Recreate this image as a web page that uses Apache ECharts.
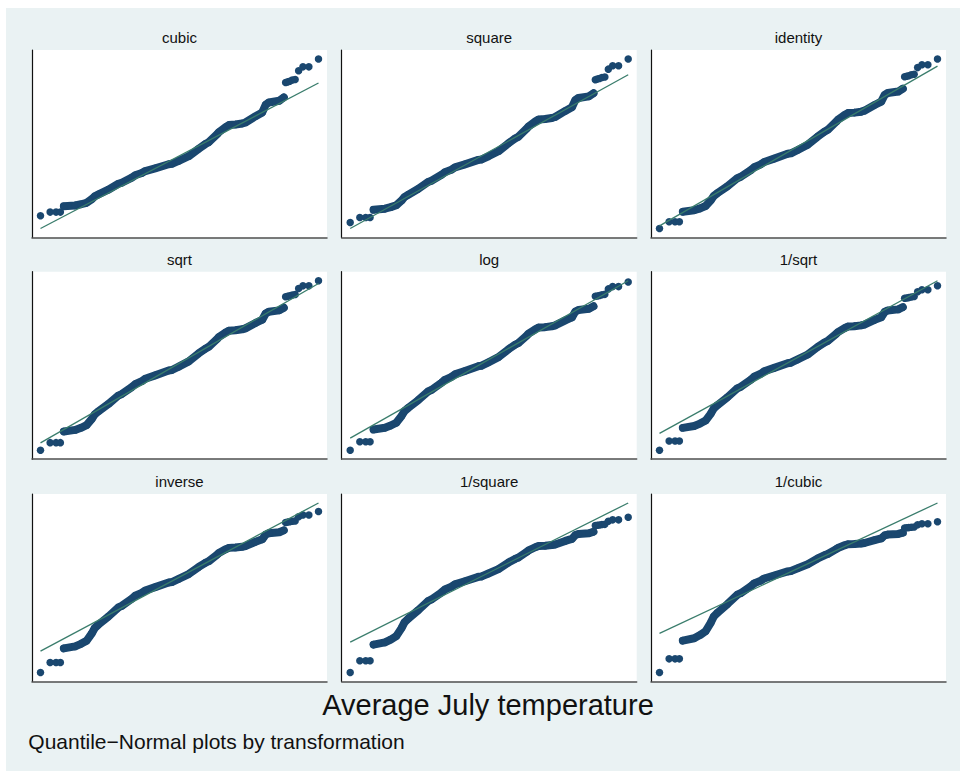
<!DOCTYPE html>
<html>
<head>
<meta charset="utf-8">
<script src="https://cdn.jsdelivr.net/npm/echarts@6/dist/echarts.min.js"></script>
<style>
html,body{margin:0;padding:0;background:#ffffff;}
#c{position:absolute;left:6px;top:8px;width:954px;height:763px;}
</style>
</head>
<body>
<div id="c"></div>
<script>
// ---- data ----
const N_OBS = 954;
const panelTitles = ['cubic', 'square', 'identity', 'sqrt', 'log', '1/sqrt', 'inverse', '1/square', '1/cubic'];
// sorted observations: rank in the sample and Average July temperature (°F)
const ranks = [1, 2, 3, 4, 5, 10, 14, 19, 25, 29, 35, 55, 84, 96, 139, 156, 193, 214, 282, 387, 414, 471, 555, 635, 684, 708, 762, 772, 808, 824, 852, 876, 886, 911, 923, 928, 932, 942, 945, 946, 947, 948, 949, 950, 951, 952, 953, 954];
const tempJuly = [58.2, 59.6, 59.6, 59.6, 61.7, 62.0, 62.4, 62.9, 64.1, 65.0, 65.6, 67.0, 68.7, 69.0, 70.4, 71.0, 71.6, 72.1, 72.8, 73.8, 73.9, 74.6, 75.7, 77.4, 78.4, 78.8, 80.5, 80.9, 81.9, 82.3, 82.4, 82.6, 82.8, 84.0, 84.7, 86.1, 86.5, 86.8, 87.4, 89.9, 90.0, 90.1, 90.3, 90.4, 91.8, 92.4, 92.4, 93.6];
const denseFrom = 5, denseTo = 945;   // ranks forming the continuous run of markers
const xTitle = 'Average July temperature';
const noteText = 'Quantile\u2212Normal plots by transformation';

// ladder of powers (Stata gladder/qladder)
const ladder = [
  v => v * v * v,
  v => v * v,
  v => v,
  v => Math.sqrt(v),
  v => Math.log(v),
  v => -1 / Math.sqrt(v),
  v => -1 / v,
  v => -1 / (v * v),
  v => -1 / (v * v * v)
];

// inverse standard normal (Acklam)
function invNorm(p) {
  const a = [-3.969683028665376e+01, 2.209460984245205e+02, -2.759285104469687e+02, 1.383577518672690e+02, -3.066479806614716e+01, 2.506628277459239e+00];
  const b = [-5.447609879822406e+01, 1.615858368580409e+02, -1.556989798598866e+02, 6.680131188771972e+01, -1.328068155288572e+01];
  const c = [-7.784894002430293e-03, -3.223964580411365e-01, -2.400758277161838e+00, -2.549732539343734e+00, 4.374664141464968e+00, 2.938163982698783e+00];
  const d = [7.784695709041462e-03, 3.224671290700398e-01, 2.445134137142996e+00, 3.754408661907416e+00];
  const pl = 0.02425;
  let q, r;
  if (p < pl) {
    q = Math.sqrt(-2 * Math.log(p));
    return (((((c[0]*q+c[1])*q+c[2])*q+c[3])*q+c[4])*q+c[5]) / ((((d[0]*q+d[1])*q+d[2])*q+d[3])*q+1);
  } else if (p <= 1 - pl) {
    q = p - 0.5; r = q * q;
    return (((((a[0]*r+a[1])*r+a[2])*r+a[3])*r+a[4])*r+a[5])*q / (((((b[0]*r+b[1])*r+b[2])*r+b[3])*r+b[4])*r+1);
  } else {
    q = Math.sqrt(-2 * Math.log(1 - p));
    return -(((((c[0]*q+c[1])*q+c[2])*q+c[3])*q+c[4])*q+c[5]) / ((((d[0]*q+d[1])*q+d[2])*q+d[3])*q+1);
  }
}

// normal quantiles (plotting position i/(N+1)) and weights of each listed observation
const zq = ranks.map(r => invNorm(r / (N_OBS + 1)));
const wts = ranks.map((r, k) => ((k + 1 < ranks.length ? ranks[k + 1] : N_OBS + 1) - (k > 0 ? ranks[k - 1] : 0)) / 2);

// ---- layout ----
const NAVY = '#1a476f', REF = '#3a7d6c', BG = '#eaf2f3';
const FONT = "'Liberation Sans', Arial, Helvetica, sans-serif";
const colLeft = [26, 335.7, 645], rowTop = [42, 263.7, 486];
const gw = 295, gh = 187.5, padX = 8.5, padY = 9;

const grids = [], xAxes = [], yAxes = [], series = [], graphics = [];
panelTitles.forEach((t, i) => {
  const f = ladder[i];
  const tv = tempJuly.map(f);
  const sw = wts.reduce((s, w) => s + w, 0);
  const m = tv.reduce((s, v, k) => s + v * wts[k], 0) / sw;
  const sd = Math.sqrt(tv.reduce((s, v, k) => s + wts[k] * (v - m) * (v - m), 0) / (sw - 1));
  const ys = tv.map(v => (v - m) / sd);
  const pts = zq.map((z, k) => [z, ys[k]]);
  const dense = pts.filter((p, k) => ranks[k] >= denseFrom && ranks[k] <= denseTo);
  const x0 = zq[0], x1 = zq[zq.length - 1];
  const yMin = Math.min(ys[0], x0), yMax = Math.max(ys[ys.length - 1], x1);
  const sx = (x1 - x0) / (gw - 2 * padX), sy = (yMax - yMin) / (gh - 2 * padY);
  const left = colLeft[i % 3], top = rowTop[Math.floor(i / 3)];
  grids.push({ left: left, top: top, width: gw, height: gh, show: true, backgroundColor: '#ffffff', borderWidth: 0, containLabel: false });
  xAxes.push({
    gridIndex: i, type: 'value', min: x0 - padX * sx, max: x1 + padX * sx,
    axisLine: { show: true, onZero: false, lineStyle: { color: '#505050', width: 1.5 } },
    axisTick: { show: false }, axisLabel: { show: false }, splitLine: { show: false }
  });
  yAxes.push({
    gridIndex: i, type: 'value', min: yMin - padY * sy, max: yMax + padY * sy,
    axisLine: { show: true, onZero: false, lineStyle: { color: '#111111', width: 1.2 } },
    axisTick: { show: false }, axisLabel: { show: false }, splitLine: { show: false }
  });
  series.push({
    type: 'line', xAxisIndex: i, yAxisIndex: i, data: dense, showSymbol: false, symbol: 'none',
    lineStyle: { color: NAVY, width: 8, cap: 'round', join: 'round' }, silent: true, z: 2
  });
  series.push({
    type: 'scatter', xAxisIndex: i, yAxisIndex: i, data: pts, symbol: 'circle', symbolSize: 7.5,
    itemStyle: { color: NAVY, opacity: 1 }, silent: true, z: 3
  });
  series.push({
    type: 'line', xAxisIndex: i, yAxisIndex: i, data: [[x0, x0], [x1, x1]], symbol: 'none',
    lineStyle: { color: REF, width: 1.3 }, silent: true, z: 4
  });
  graphics.push({
    type: 'text', x: left + gw / 2, y: top - 12.6, silent: true,
    style: { text: t, fill: '#111111', fontSize: 15, fontFamily: FONT, align: 'center', verticalAlign: 'middle' }
  });
});
graphics.push({
  type: 'text', x: 482, y: 697, silent: true,
  style: { text: xTitle, fill: '#111111', fontSize: 29, fontFamily: FONT, align: 'center', verticalAlign: 'middle' }
});
graphics.push({
  type: 'text', x: 22.3, y: 733, silent: true,
  style: { text: noteText, fill: '#111111', fontSize: 21, fontFamily: FONT, align: 'left', verticalAlign: 'middle' }
});

const chart = echarts.init(document.getElementById('c'), null, { renderer: 'svg' });
chart.setOption({
  backgroundColor: BG,
  animation: false,
  grid: grids,
  xAxis: xAxes,
  yAxis: yAxes,
  series: series,
  graphic: graphics
});
</script>
</body>
</html>
